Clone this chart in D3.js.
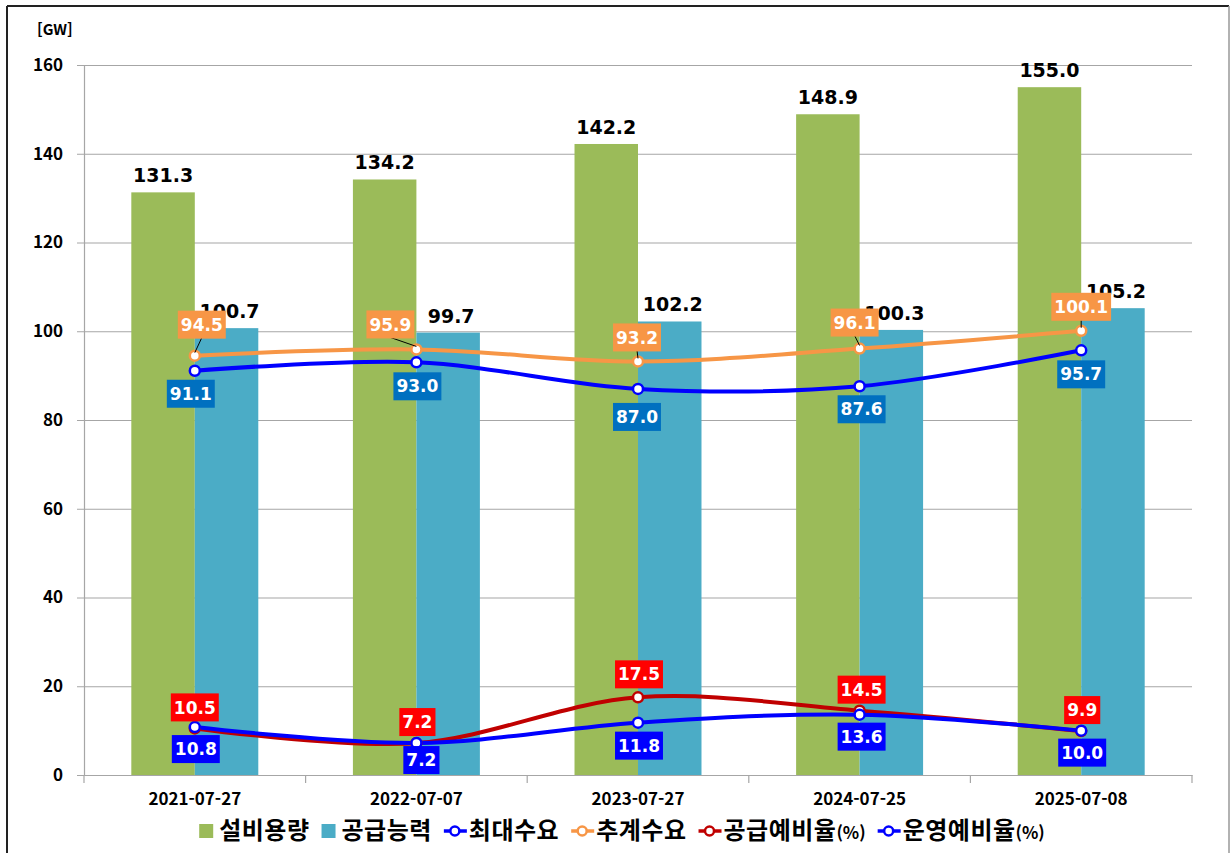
<!DOCTYPE html>
<html lang="ko">
<head>
  <meta charset="utf-8">
  <title>설비용량 / 공급능력 / 수요</title>
  <script src="https://cdn.jsdelivr.net/npm/d3@7"></script>
  <style>
    body { margin: 0; background: #fff; }
    .tick-label { font-family: "Noto Sans CJK KR", sans-serif; font-weight: 700; fill: #000; }
    .val { font-family: "DejaVu Sans", Verdana, sans-serif; font-weight: 700; }
    .legend-text { font-family: "Noto Sans CJK KR", sans-serif; font-weight: 700; font-size: 24px; letter-spacing: 0.5px; fill: #000; }
  </style>
</head>
<body>
<svg id="chart" width="1231" height="853"></svg>
<script>
  // data
  var categories = ["2021-07-27", "2022-07-07", "2023-07-27", "2024-07-25", "2025-07-08"];
  var capacity = [131.3, 134.2, 142.2, 148.9, 155.0];        // 설비용량
  var supply = [100.7, 99.7, 102.2, 100.3, 105.2];           // 공급능력
  var peakDemand = [91.1, 93.0, 87.0, 87.6, 95.7];           // 최대수요
  var forecastDemand = [94.5, 95.9, 93.2, 96.1, 100.1];      // 추계수요
  var supplyReserve = [10.5, 7.2, 17.5, 14.5, 9.9];          // 공급예비율(%)
  var operReserve = [10.8, 7.2, 11.8, 13.6, 10.0];           // 운영예비율(%)
  var yTicks = [0, 20, 40, 60, 80, 100, 120, 140, 160];

  (function () {
  var svg = d3.select("#chart");
  var fmt = d3.format(".1f");

  var plotLeft = 84, plotRight = 1192, plotTop = 65, plotBottom = 775;

  var x = d3.scaleBand().domain(categories).range([plotLeft, plotRight])
    .paddingInner(0.427).paddingOuter(0.2135);
  var xs = d3.scaleBand().domain(["cap", "sup"]).range([0, x.bandwidth()]);
  var y = d3.scaleLinear().domain([0, 160]).range([plotBottom, plotTop]);
  var cx = function (c) { return x(c) + x.bandwidth() / 2; };

  // outer frame
  svg.append("line").attr("x1", 7).attr("x2", 7).attr("y1", 6).attr("y2", 853)
    .attr("stroke", "#222").attr("stroke-width", 2);
  svg.append("line").attr("x1", 7).attr("x2", 1229).attr("y1", 6).attr("y2", 6)
    .attr("stroke", "#222").attr("stroke-width", 2);
  svg.append("line").attr("x1", 1229).attr("x2", 1229).attr("y1", 6).attr("y2", 853)
    .attr("stroke", "#999").attr("stroke-width", 1.5);

  // grid
  svg.append("g").selectAll("line").data(yTicks.filter(function (d) { return d > 0; }))
    .enter().append("line")
    .attr("x1", plotLeft).attr("x2", plotRight)
    .attr("y1", function (d) { return y(d) + 0.5; }).attr("y2", function (d) { return y(d) + 0.5; })
    .attr("stroke", "#a6a6a6").attr("stroke-width", 1.2);

  // y axis
  var yAxis = svg.append("g").attr("transform", "translate(" + plotLeft + ",0)")
    .call(d3.axisLeft(y).tickValues(yTicks).tickSize(7).tickPadding(14));
  yAxis.select(".domain").attr("stroke", "#a6a6a6").attr("stroke-width", 1.2);
  yAxis.selectAll(".tick line").attr("stroke", "#a6a6a6");
  yAxis.selectAll(".tick text").attr("class", "tick-label").style("font-size", "17px");

  svg.append("text").attr("class", "tick-label").attr("x", 37).attr("y", 35)
    .style("font-size", "15px").text("[GW]");

  // x axis
  var xAxis = svg.append("g").attr("transform", "translate(0," + plotBottom + ")")
    .call(d3.axisBottom(x).tickSize(0).tickPadding(18));
  xAxis.select(".domain").attr("stroke", "#a6a6a6").attr("stroke-width", 1.2);
  xAxis.selectAll(".tick text").attr("class", "tick-label").style("font-size", "17px");
  var bounds = categories.map(function (c) { return x(c) - (x.step() - x.bandwidth()) / 2; });
  bounds.push(plotRight);
  svg.append("g").selectAll("line").data(bounds).enter().append("line")
    .attr("x1", function (d) { return d; }).attr("x2", function (d) { return d; })
    .attr("y1", plotBottom).attr("y2", plotBottom + 8)
    .attr("stroke", "#a6a6a6").attr("stroke-width", 1.2);

  // bars
  var barSeries = [
    { key: "cap", values: capacity, color: "#9bbb59" },
    { key: "sup", values: supply, color: "#4bacc6" }
  ];
  barSeries.forEach(function (s) {
    svg.append("g").selectAll("rect").data(s.values).enter().append("rect")
      .attr("x", function (d, i) { return x(categories[i]) + xs(s.key); })
      .attr("y", function (d) { return y(d); })
      .attr("width", xs.bandwidth())
      .attr("height", function (d) { return plotBottom - y(d); })
      .attr("fill", s.color);
  });
  barSeries.forEach(function (s) {
    svg.append("g").selectAll("text").data(s.values).enter().append("text")
      .attr("class", "val")
      .attr("x", function (d, i) { return x(categories[i]) + xs(s.key) + xs.bandwidth() / 2 + (s.key == "sup" ? 3 : 0); })
      .attr("y", function (d) { return y(d) - 10; })
      .attr("text-anchor", "middle")
      .style("font-size", "19px")
      .text(function (d) { return fmt(d); });
  });

  // lines
  var lineSeries = [
    { name: "추계수요", values: forecastDemand, color: "#f79646", width: 4, box: "#f79646",
      off: [[7, -31], [-26, -25], [-1, -24], [-5, -26], [0, -24]], leader: true },
    { name: "최대수요", values: peakDemand, color: "#0000ff", width: 4, box: "#0070c0",
      off: [[-4, 23], [1, 24], [-1, 28], [2, 23], [0, 24]] },
    { name: "공급예비율", values: supplyReserve, color: "#c00000", width: 4, box: "#ff0000",
      off: [[0, -21], [1, -21], [1, -23], [2, -21], [1, -21]] },
    { name: "운영예비율", values: operReserve, color: "#0000ff", width: 4, box: "#0000ff",
      off: [[1, 22], [5, 17], [1, 23], [2, 22], [1, 22]] }
  ];

  var line = d3.line()
    .x(function (d, i) { return cx(categories[i]); })
    .y(function (d) { return y(d); })
    .curve(d3.curveCardinal.tension(0));

  lineSeries.forEach(function (s) {
    svg.append("path").datum(s.values).attr("d", line)
      .attr("fill", "none").attr("stroke", s.color).attr("stroke-width", s.width);
  });
  lineSeries.forEach(function (s) {
    svg.append("g").selectAll("circle").data(s.values).enter().append("circle")
      .attr("cx", function (d, i) { return cx(categories[i]); })
      .attr("cy", function (d) { return y(d); })
      .attr("r", 5).attr("fill", "#fff")
      .attr("stroke", s.color).attr("stroke-width", 2.5);
  });

  // data label boxes
  lineSeries.forEach(function (s) {
    var g = svg.append("g");
    s.values.forEach(function (d, i) {
      var px = cx(categories[i]), py = y(d);
      var lx = px + s.off[i][0], ly = py + s.off[i][1];
      var lg = g.append("g");
      if (s.leader) {
        lg.append("line").attr("x1", lx).attr("y1", ly + 13)
          .attr("x2", px).attr("y2", py - 3)
          .attr("stroke", "#000").attr("stroke-width", 1);
      }
      var t = lg.append("text").attr("class", "val")
        .attr("x", lx).attr("y", ly).attr("dy", "0.36em")
        .attr("text-anchor", "middle").attr("fill", "#fff")
        .style("font-size", "17px").text(fmt(d));
      var w = t.node().getComputedTextLength();
      lg.insert("rect", "text")
        .attr("x", lx - w / 2 - 3).attr("y", ly - 14)
        .attr("width", w + 6).attr("height", 28)
        .attr("fill", s.box);
    });
  });

  // legend
  var legendItems = [
    { type: "box", color: "#9bbb59", label: "설비용량" },
    { type: "box", color: "#4bacc6", label: "공급능력" },
    { type: "line", color: "#0000ff", label: "최대수요" },
    { type: "line", color: "#f79646", label: "추계수요" },
    { type: "line", color: "#c00000", label: "공급예비율", pct: true },
    { type: "line", color: "#0000ff", label: "운영예비율", pct: true }
  ];
  var legend = svg.append("g");
  var lx = 0, ly = 831;
  legendItems.forEach(function (it) {
    var g = legend.append("g");
    if (it.type == "box") {
      g.append("rect").attr("x", lx).attr("y", ly - 7).attr("width", 14).attr("height", 14)
        .attr("fill", it.color);
      lx += 20;
    } else {
      g.append("line").attr("x1", lx).attr("x2", lx + 23).attr("y1", ly).attr("y2", ly)
        .attr("stroke", it.color).attr("stroke-width", 3.5);
      g.append("circle").attr("cx", lx + 11).attr("cy", ly).attr("r", 4.5)
        .attr("fill", "#fff").attr("stroke", it.color).attr("stroke-width", 2.5);
      lx += 25;
    }
    var t = g.append("text").attr("class", "legend-text")
      .attr("x", lx).attr("y", ly).attr("dy", "0.35em").text(it.label);
    if (it.pct) t.append("tspan").style("font-size", "17px").style("letter-spacing", "0").text("(%)");
    lx += t.node().getComputedTextLength() + 12;
  });
  var lw = lx - 12;
  legend.attr("transform", "translate(" + (622 - lw / 2) + ",0)");
  })();
</script>
</body>
</html>
